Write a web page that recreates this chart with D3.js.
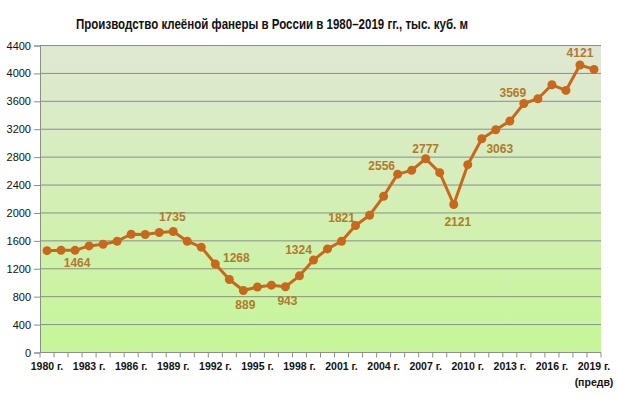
<!DOCTYPE html>
<html><head><meta charset="utf-8">
<script src="https://cdn.jsdelivr.net/npm/d3@7/dist/d3.min.js"></script>
<style>body{margin:0;background:#fff}svg{display:block}</style>
</head><body>
<svg id="c" width="620" height="398"></svg>
<script>
const years = d3.range(1980, 2020);
const values = [1460,1466,1464,1528,1552,1595,1695,1691,1720,1735,
                1595,1510,1268,1047,889,938,965,943,1099,1324,
                1485,1595,1821,1967,2239,2556,2611,2777,2578,2121,
                2692,3063,3193,3317,3569,3637,3837,3756,4121,4057];
const labelledYears = [1982,1989,1992,1994,1997,1999,2002,2005,2007,2009,2011,2014,2018];
const yTicks = d3.range(0, 4401, 400);
const xTickYears = d3.range(1980, 2020, 3);
const title = "Производство клеёной фанеры в России в 1980–2019 гг., тыс. куб. м";

// label placements (dx, dy relative to point)
const place = {1982:[2,17],1989:[-1,-10],1992:[21,-2],1994:[2,19],1997:[2,18],1999:[-15,-6],
  2002:[-14,-3],2005:[-16,-4],2007:[0,-6],2009:[4,21],2011:[18,14],2014:[-11,-6],2018:[0,-8]};

const svg = d3.select("#c");
const L=40, R=601, T=45.5, B=352.5;
const x = d3.scaleBand().domain(years).range([L,R]).padding(0);
const cx = d => x(d)+x.bandwidth()/2;
const y = d3.scaleLinear().domain([0,4400]).range([B,T]);

const defs = svg.append("defs");
const g = defs.append("linearGradient").attr("id","bg").attr("x1",0).attr("y1",0).attr("x2",0).attr("y2",1);
g.append("stop").attr("offset","0%").attr("stop-color","#dfe8d3");
g.append("stop").attr("offset","50%").attr("stop-color","#d4efb6");
g.append("stop").attr("offset","100%").attr("stop-color","#c6f698");
svg.append("rect").attr("x",L).attr("y",T).attr("width",R-L).attr("height",B-T).attr("fill","url(#bg)");

// grid
svg.append("g").selectAll("line").data(yTicks.filter(v=>v>0)).join("line")
  .attr("x1",L).attr("x2",R).attr("y1",d=>y(d)).attr("y2",d=>y(d))
  .attr("stroke","#8a8f88").attr("stroke-width",1);

// y axis
const ya = svg.append("g").attr("transform",`translate(${L},0)`)
  .call(d3.axisLeft(y).tickValues(yTicks).tickSize(6).tickPadding(3).tickFormat(d3.format("d")));
ya.select(".domain").attr("stroke","#8a8f88");
ya.selectAll(".tick line").attr("stroke","#8a8f88");
ya.selectAll("text").attr("font-family","Liberation Sans, Arial, sans-serif").attr("font-size","11px").attr("fill","#111");

// x axis
const xa = svg.append("g").attr("transform",`translate(0,${B})`);
xa.append("line").attr("x1",L).attr("x2",R).attr("y1",0).attr("y2",0).attr("stroke","#8a8f88");
xa.selectAll("line.t").data(years.concat([2020])).join("line").attr("class","t")
  .attr("x1",d=>d===2020?R:x(d)).attr("x2",d=>d===2020?R:x(d)).attr("y1",0).attr("y2",5).attr("stroke","#8a8f88");
xa.selectAll("text").data(xTickYears).join("text")
  .attr("x",d=>cx(d)).attr("y",17).attr("text-anchor","middle")
  .attr("font-family","Liberation Sans, Arial, sans-serif").attr("font-size","10.5px").attr("font-weight","bold").attr("fill","#111")
  .text(d=>d+" г.");
xa.append("text").attr("x",cx(2019)).attr("y",33).attr("text-anchor","middle")
  .attr("font-family","Liberation Sans, Arial, sans-serif").attr("font-size","10.5px").attr("font-weight","bold").attr("fill","#111")
  .text("(предв)");

// line
const data = years.map((yr,i)=>({yr, v: values[i]}));
svg.append("path").datum(data)
  .attr("d", d3.line().x(d=>cx(d.yr)).y(d=>y(d.v)))
  .attr("fill","none").attr("stroke","#c8681c").attr("stroke-width",3).attr("stroke-linejoin","round");
svg.append("g").selectAll("circle").data(data).join("circle")
  .attr("cx",d=>cx(d.yr)).attr("cy",d=>y(d.v)).attr("r",4.5).attr("fill","#c8681c");

// value labels
svg.append("g").selectAll("text").data(data.filter(d=>labelledYears.includes(d.yr))).join("text")
  .attr("x",d=>cx(d.yr)+place[d.yr][0]).attr("y",d=>y(d.v)+place[d.yr][1])
  .attr("text-anchor","middle")
  .attr("font-family","Liberation Sans, Arial, sans-serif").attr("font-size","12px").attr("font-weight","bold")
  .attr("fill","#b07a2c").text(d=>d.v);

// title (condensed like the original narrow font)
svg.append("text").attr("x",272).attr("y",29).attr("text-anchor","middle")
  .attr("font-family","Liberation Sans, Arial, sans-serif").attr("font-size","14px").attr("font-weight","bold")
  .attr("textLength",392).attr("lengthAdjust","spacingAndGlyphs")
  .attr("fill","#111").text(title);
</script>
</body></html>
